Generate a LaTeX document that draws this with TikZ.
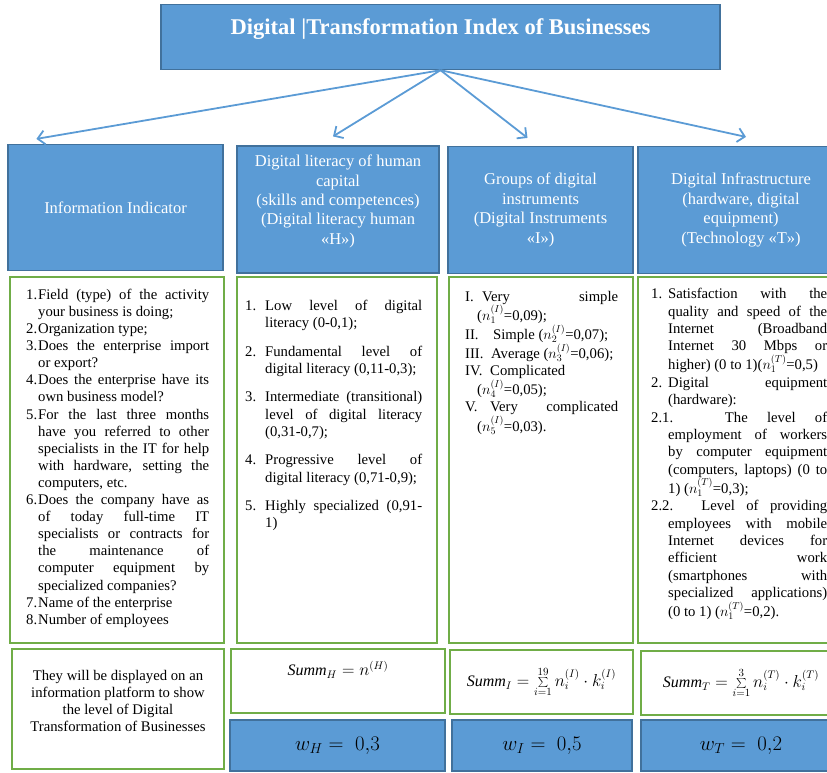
\documentclass[tikz,border=0pt]{standalone}
\usepackage{fontspec}
\setmainfont{Liberation Serif}
\usetikzlibrary{arrows.meta}
\definecolor{boxblue}{HTML}{5B9BD5}
\definecolor{boxedge}{HTML}{41719C}
\definecolor{boxgreen}{HTML}{70AD47}
\hyphenpenalty=10000
\tolerance=9999
\emergencystretch=20pt
\hbadness=10000
\newcommand{\itemlab}[3]{\par\hangindent=#1\hangafter=1\noindent\makebox[#2][l]{#3}\ignorespaces}
\newcommand{\nb}{\linebreak}
\newcommand{\listspace}{\spaceskip=0.25em plus 0.6em\relax}
\tikzset{
  headtext/.style={text=white, align=center, inner sep=0pt, font=\fontsize{16.5}{19.4}\selectfont},
  bluebox/.style={headtext, draw=boxedge, fill=boxblue, line width=1.2pt},
  greenbox/.style={draw=boxgreen, line width=1.5pt, inner sep=0pt},
  listtext/.style={anchor=north west, align=justify, inner sep=0pt, font=\fontsize{14.7}{17.1}\selectfont},
  notetext/.style={align=center, inner sep=0pt, font=\fontsize{14.7}{17.3}\selectfont},
  sumtext/.style={inner sep=0pt, font=\fontsize{16}{19}\selectfont},
  weight/.style={draw=boxedge, fill=boxblue, line width=1.2pt, inner sep=0pt, font=\fontsize{20}{24}\selectfont},
  arr/.style={draw=boxblue, line width=1.8pt, -{Straight Barb[length=7pt,width=14pt]}}
}

\begin{document}
\begin{tikzpicture}[x=1pt, y=-1pt]
    \useasboundingbox (0,0) rectangle (827,772);
% Title
    \node[bluebox, anchor=north, minimum width=559pt, text height=30pt, text depth=35pt, font=\fontsize{22.5}{27}\selectfont\bfseries] (title) at (440.5,4) {Digital |Transformation Index of Businesses};
% Headers
    \node[bluebox, minimum width=215pt, minimum height=126pt] (info) at (115.5,207.5) {Information Indicator};
    \node[bluebox, minimum width=202pt, minimum height=127pt] (human) at (338,209.5) {};
    \node[headtext] (humanlabel) at ([yshift=8pt]human.center) {Digital literacy of human\\capital\\(skills and competences)\\(Digital literacy human\\«H»)};
    \node[bluebox, minimum width=185pt, minimum height=127pt] (instr) at (540.5,210) {Groups of digital\\instruments\\(Digital Instruments\\«I»)};
    \node[bluebox, minimum width=206pt, minimum height=127pt] (infra) at (741,210) {Digital Infrastructure\\(hardware, digital\\equipment)\\(Technology «T»)};
% Arrows
    \coordinate (infotip) at ([xshift=29pt,yshift=5pt]info.north west);
    \coordinate (humantip) at ([xshift=-5pt,yshift=9pt]human.north);
    \coordinate (instrtip) at ([xshift=-13pt,yshift=8pt]instr.north);
    \coordinate (infratip) at ([xshift=5pt,yshift=9pt]infra.north);
    \draw[arr] (title.south) -- (infotip);
    \draw[arr] (title.south) -- (humantip);
    \draw[arr] (title.south) -- (instrtip);
    \draw[arr] (title.south) -- (infratip);
% Lists
    \node[greenbox, minimum width=214pt, minimum height=366pt] (infolist) at (117,460) {};
    \node[greenbox, minimum width=200pt, minimum height=366pt] (humanlist) at (337,460) {};
    \node[greenbox, minimum width=184pt, minimum height=366pt] (instrlist) at (541,460) {};
    \node[greenbox, minimum width=206pt, minimum height=366pt] (infralist) at (741,460) {};
    \node[listtext, text width=183pt] (infoitems) at (26,282) {\listspace
    \itemlab{12pt}{12pt}{1.}Field (type) of the activity\nb your business is doing;
    \itemlab{12pt}{12pt}{2.}Organization type;
    \itemlab{12pt}{12pt}{3.}Does the enterprise import\nb or export?
    \itemlab{12pt}{12pt}{4.}Does the enterprise have its\nb own business model?
    \itemlab{12pt}{12pt}{5.}For the last three months\nb have you referred to other\nb specialists in the IT for help\nb with hardware, setting the\nb computers, etc.
    \itemlab{12pt}{12pt}{6.}Does the company have as\nb of today full-time IT\nb specialists or contracts for\nb the maintenance of\nb computer equipment by\nb specialized companies?
    \itemlab{12pt}{12pt}{7.}Name of the enterprise
    \itemlab{12pt}{12pt}{8.}Number of employees\par};
    \node[listtext, text width=177pt, font=\fontsize{14.7}{17.4}\selectfont] (humanitems) at (245,282) {\listspace\setlength{\parskip}{10.8pt}%
    \itemlab{20pt}{20pt}{1.}Low level of digital\nb literacy (0-0,1);
    \itemlab{20pt}{20pt}{2.}Fundamental level of\nb digital literacy (0,11-0,3);
    \itemlab{20pt}{20pt}{3.}Intermediate (transitional)\nb level of digital literacy\nb (0,31-0,7);
    \itemlab{20pt}{20pt}{4.}Progressive level of\nb digital literacy (0,71-0,9);
    \itemlab{20pt}{20pt}{5.}Highly specialized (0,91-\nb 1)\par};
    \node[listtext, text width=153pt] (instritems) at (465,284) {\listspace
    \itemlab{12pt}{17pt}{I.}Very simple\nb (\(n_1^{(I)}\)=0,09);
    \itemlab{12pt}{28pt}{II.}Simple (\(n_2^{(I)}\)=0,07);
    \itemlab{12pt}{26pt}{III.}Average (\(n_3^{(I)}\)=0,06);
    \itemlab{12pt}{25pt}{IV.}Complicated\newline (\(n_4^{(I)}\)=0,05);
    \itemlab{12pt}{25pt}{V.}Very complicated\nb (\(n_5^{(I)}\)=0,03).\par};
    \node[listtext, text width=176pt, font=\fontsize{14.7}{17.4}\selectfont] (infraitems) at (651,281) {\listspace
    \itemlab{17pt}{17pt}{1.}Satisfaction with the\nb quality and speed of the\nb Internet (Broadband\nb Internet 30 Mbps or\nb higher) (0 to 1)(\(n_1^{(T)}\)=0,5)
    \itemlab{17pt}{17pt}{2.}Digital equipment\nb (hardware):
    \itemlab{17pt}{0pt}{}2.1. The level of\nb employment of workers\nb by computer equipment\nb (computers, laptops) (0 to\nb 1) (\(n_1^{(T)}\)=0,3);
    \itemlab{17pt}{0pt}{}2.2. Level of providing\nb employees with mobile\nb Internet devices for\nb efficient work\nb (smartphones with\nb specialized applications)\nb (0 to 1) (\(n_1^{(T)}\)=0,2).\par};
% Sums
    \node[greenbox, minimum width=212pt, minimum height=120pt] (note) at (118,709) {};
    \node[notetext] (notelines) at (118,701) {They will be displayed on an\\information platform to show\\the level of Digital\\Transformation of Businesses};
    \node[greenbox, minimum width=214pt, minimum height=64pt] (sumH) at (338,681) {};
    \node[greenbox, minimum width=183pt, minimum height=64pt] (sumI) at (541.5,682) {};
    \node[greenbox, minimum width=200pt, minimum height=64pt] (sumT) at (741,683) {};
    \node[sumtext] (sumHtext) at (338,670) {$\mathit{Summ}_H = n^{(H)}$};
    \node[sumtext] (sumItext) at (sumI) {$\mathit{Summ}_I = \sum\limits_{i=1}^{19} n_i^{(I)} \cdot k_i^{(I)}$};
    \node[sumtext] (sumTtext) at (sumT) {$\mathit{Summ}_T = \sum\limits_{i=1}^{3} n_i^{(T)} \cdot k_i^{(T)}$};
% Weights
    \node[weight, minimum width=215pt, minimum height=51pt] (wH) at (337.5,745.5) {$w_H =\; 0{,}3$};
    \node[weight, minimum width=180pt, minimum height=51pt] (wI) at (542,745.5) {$w_I =\; 0{,}5$};
    \node[weight, minimum width=200pt, minimum height=51pt] (wT) at (741,745.5) {$w_T =\; 0{,}2$};
\end{tikzpicture}
\end{document}
